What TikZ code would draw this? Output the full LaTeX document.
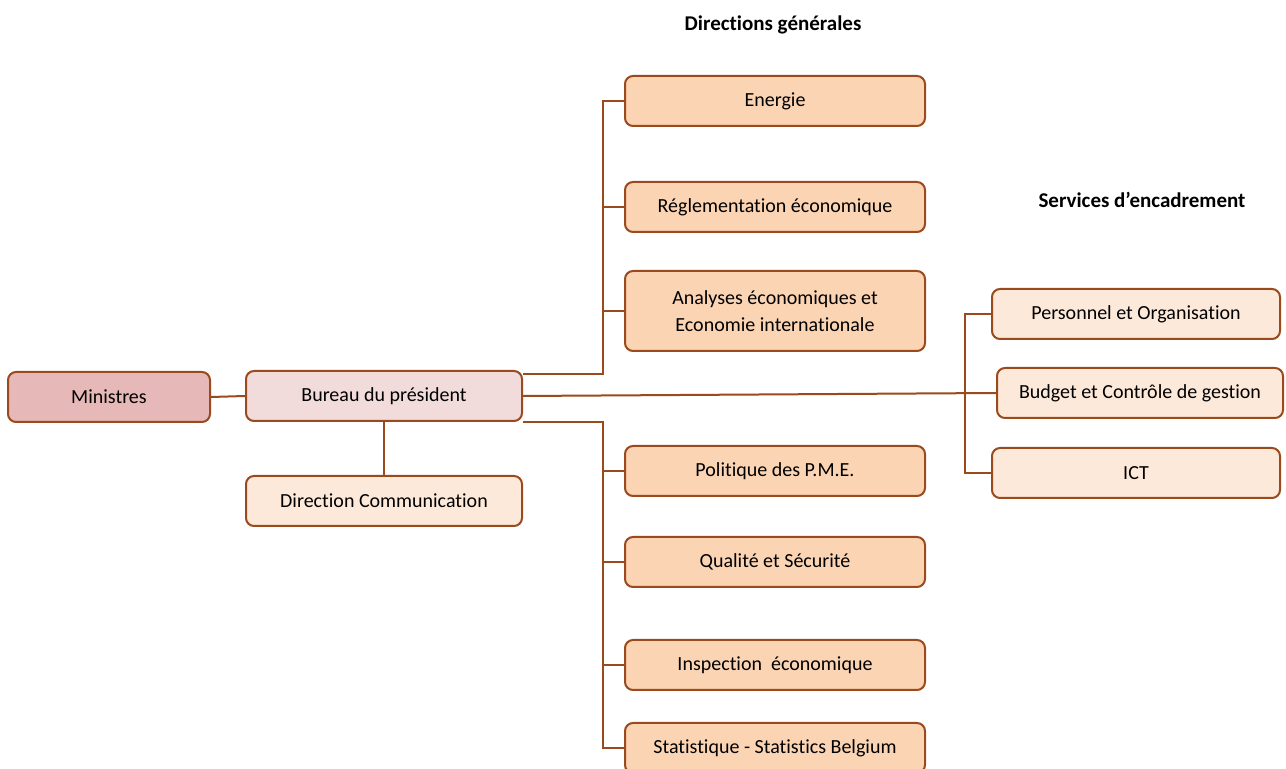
\documentclass[tikz,border=0pt]{standalone}
\usepackage{fontspec}
\setmainfont[Ligatures=NoCommon]{Carlito}
\usepackage{tikz}

\definecolor{brun}{HTML}{9A4A1C}
\definecolor{minfill}{HTML}{E6B8B7}
\definecolor{burfill}{HTML}{F2DCDB}
\definecolor{dgfill}{HTML}{FBD4B4}
\definecolor{srvfill}{HTML}{FDE9D9}

\tikzset{
  boite/.style = {draw=brun, line width=1pt, rounded corners=4pt, align=center,
                  minimum height=25pt, font=\fontsize{10}{13.5}\selectfont},
  dg/.style    = {boite, fill=dgfill, minimum width=150pt},
  srv/.style   = {boite, fill=srvfill, minimum width=144pt},
  link/.style  = {draw=brun, line width=1pt},
  titre/.style = {font=\fontsize{10.5}{12}\selectfont\bfseries}
}

\begin{document}
\begin{tikzpicture}[x=0.5pt, y=-0.5pt]
\useasboundingbox (0,0) rectangle (1286,769);
% gauche
\node[boite, fill=minfill, minimum width=101pt] (ministres) at (109,397) {Ministres};
\node[boite, fill=burfill, minimum width=138pt] (bureau) at (384,396) {Bureau du président};
\node[boite, fill=srvfill, minimum width=138pt] (dircom) at (384,501) {Direction Communication};
% directions generales
\node[titre] (titredg) at (773,25) {Directions générales};
\node[dg] (energie) at (775,101) {Energie};
\node[dg] (regl) at (775,207) {Réglementation économique};
\node[dg, minimum height=40pt] (analyses) at (775,311) {Analyses économiques et\\Economie internationale};
\node[dg] (pme) at (775,471) {Politique des P.M.E.};
\node[dg] (qualite) at (775,562) {Qualité et Sécurité};
\node[dg] (inspection) at (775,665) {Inspection\ \ économique};
\node[dg] (stat) at (775,748) {Statistique - Statistics Belgium};
% services d'encadrement
\node[titre] (titresrv) at (1142,200) {Services d’encadrement};
\node[srv] (perso) at (1136,314) {Personnel et Organisation};
\node[srv, minimum width=143pt] (budget) at (1140,393) {Budget et Contrôle de gestion};
\node[srv] (ict) at (1136,473) {ICT};

% liens
\draw[link] (ministres.east) -- (bureau.west);
\draw[link] (bureau.south) -- (dircom.north);
\draw[link] ([yshift=-2pt]bureau.north east) -| ([xshift=-10.5pt]energie.west) -- (energie.west);
\draw[link] (bureau.south east) -| ([xshift=-10.5pt]stat.west) -- (stat.west);
\foreach \n in {regl,analyses,pme,qualite,inspection}
  \draw[link] (\n.west) -- ++(-10.5pt,0);
\draw[link] (bureau.east) -- (budget.west);
\draw[link] (perso.west) -- ++(-13pt,0) |- (ict.west);
\end{tikzpicture}
\end{document}
